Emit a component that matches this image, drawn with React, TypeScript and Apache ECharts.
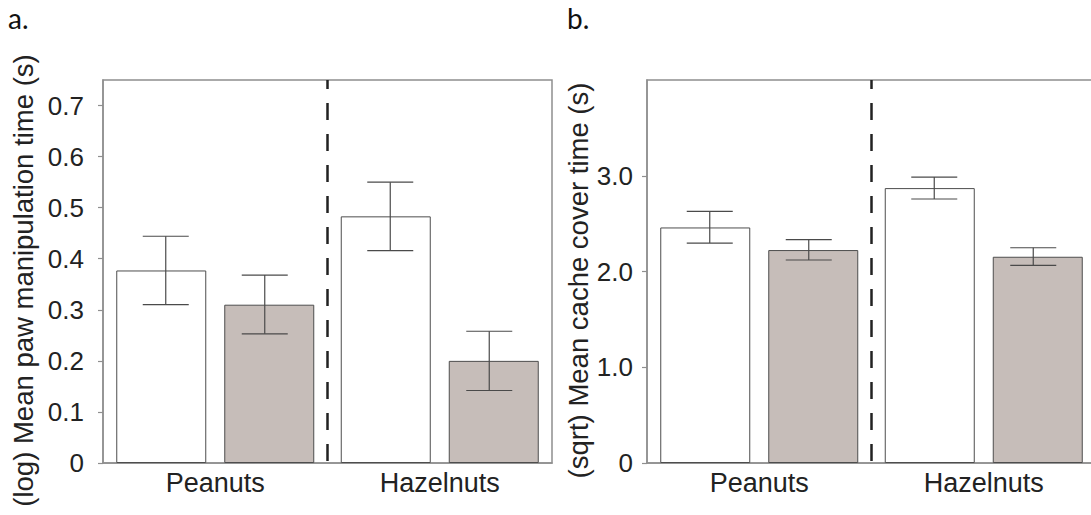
import React, { useEffect, useRef } from "react";
import * as echarts from "echarts";

const categories = ["Peanuts", "Hazelnuts"];

// Panel a: (log) mean paw manipulation time
const manipWhite = [0.377, 0.483];
const manipGray = [0.31, 0.2];
const manipWhiteErr = [
  [0.31, 0.444],
  [0.416, 0.55],
];
const manipGrayErr = [
  [0.253, 0.368],
  [0.142, 0.258],
];
const manipTicks = [0, 0.1, 0.2, 0.3, 0.4, 0.5, 0.6, 0.7];

// Panel b: (sqrt) mean cache cover time
const coverWhite = [2.46, 2.871];
const coverGray = [2.224, 2.154];
const coverWhiteErr = [
  [2.297, 2.627],
  [2.757, 2.986],
];
const coverGrayErr = [
  [2.12, 2.332],
  [2.063, 2.248],
];
const coverTicks = [0, 1, 2, 3];

const FONT = "'Liberation Sans', Arial, sans-serif";
const BAR_W = 90;
const BAR_GAP = 0.2;
const OFFSET = (BAR_W * (2 + BAR_GAP)) / 4;
const CAP_HALF = 23;
const BOX = "#8f8f8f";
const BAR_BORDER = "#4d4d4d";
const GRAY_FILL = "#c6bdb9";
const ERR = "#4a4a4a";

function errSeries(axis: number, data: number[][], sign: number) {
  return {
    type: "custom",
    xAxisIndex: axis,
    yAxisIndex: axis,
    z: 5,
    silent: true,
    data: data.map((d, i) => [i, d[0], d[1]]),
    renderItem: (params: any, api: any) => {
      const lo = api.coord([api.value(0), api.value(1)]);
      const hi = api.coord([api.value(0), api.value(2)]);
      const x = lo[0] + sign * OFFSET;
      const st = { stroke: ERR, lineWidth: 1.2 };
      return {
        type: "group",
        children: [
          { type: "line", shape: { x1: x, y1: lo[1], x2: x, y2: hi[1] }, style: st },
          { type: "line", shape: { x1: x - CAP_HALF, y1: lo[1], x2: x + CAP_HALF, y2: lo[1] }, style: st },
          { type: "line", shape: { x1: x - CAP_HALF, y1: hi[1], x2: x + CAP_HALF, y2: hi[1] }, style: st },
        ],
      };
    },
  };
}

function dashSeries(axis: number) {
  return {
    type: "custom",
    xAxisIndex: axis,
    yAxisIndex: axis,
    z: 6,
    silent: true,
    data: [[0]],
    renderItem: (params: any, api: any) => {
      const a = api.coord([0, 0]);
      const b = api.coord([1, 0]);
      const x = (a[0] + b[0]) / 2;
      const cs = params.coordSys;
      return {
        type: "line",
        shape: { x1: x, y1: cs.y, x2: x, y2: cs.y + cs.height },
        style: { stroke: "#222", lineWidth: 2.5, lineDash: [17, 14], lineDashOffset: 8 },
      };
    },
  };
}

function barSeries(axis: number, data: number[], fill: string) {
  return {
    type: "bar",
    xAxisIndex: axis,
    yAxisIndex: axis,
    data,
    barWidth: BAR_W,
    barGap: `${BAR_GAP * 100}%`,
    itemStyle: { color: fill, borderColor: BAR_BORDER, borderWidth: 1 },
    silent: true,
  };
}

const fmt = (v: number) => (v === 0 ? "0" : v.toFixed(1));

function yAxis(gridIndex: number, max: number, interval: number, ticks: number[], name: string, nameGap: number, margin: number, pad: number) {
  return {
    type: "value",
    gridIndex,
    min: 0,
    max,
    interval,
    name,
    nameLocation: "middle",
    nameGap,
    nameTextStyle: { fontFamily: FONT, fontSize: 27.5, color: "#222", padding: [0, pad, 0, 0] },
    splitLine: { show: false },
    axisLine: { show: true, lineStyle: { color: BOX, width: 1.5 } },
    axisTick: { show: true, length: 5, lineStyle: { color: BOX, width: 1.2 }, customValues: ticks },
    axisLabel: { fontFamily: FONT, fontSize: 26, color: "#222", margin, formatter: fmt, customValues: ticks },
  };
}

function xAxis(gridIndex: number) {
  return {
    type: "category",
    gridIndex,
    data: categories,
    axisLine: { show: true, lineStyle: { color: BOX, width: 1.5 } },
    axisTick: { show: false },
    axisLabel: { fontFamily: FONT, fontSize: 27, color: "#222", margin: 6 },
  };
}

export default function App() {
  const ref = useRef<HTMLDivElement>(null);
  useEffect(() => {
    if (!ref.current) return;
    const chart = echarts.init(ref.current, null, { renderer: "svg" });
    chart.setOption({
      animation: false,
      backgroundColor: "#ffffff",
      grid: [
        { left: 103, top: 80, width: 449, height: 383, show: true, borderColor: BOX, borderWidth: 1.5, backgroundColor: "transparent", outerBoundsMode: "none", containLabel: false },
        { left: 647, top: 80, width: 449, height: 383, show: true, borderColor: BOX, borderWidth: 1.5, backgroundColor: "transparent", outerBoundsMode: "none", containLabel: false },
      ],
      xAxis: [xAxis(0), xAxis(1)],
      yAxis: [
        yAxis(0, 0.75, 0.1, manipTicks, "(log) Mean paw manipulation time (s)", 66, 19, 18),
        yAxis(1, 4, 1, coverTicks, "(sqrt) Mean cache cover time (s)", 50, 14, 18),
      ],
      graphic: [
        { type: "text", left: 8, top: 4, style: { text: "a.", font: "28px Lato, 'Open Sans', sans-serif", fill: "#111" } },
        { type: "text", left: 567, top: 4, style: { text: "b.", font: "28px Lato, 'Open Sans', sans-serif", fill: "#111" } },
      ],
      series: [
        barSeries(0, manipWhite, "#ffffff"),
        barSeries(0, manipGray, GRAY_FILL),
        barSeries(1, coverWhite, "#ffffff"),
        barSeries(1, coverGray, GRAY_FILL),
        errSeries(0, manipWhiteErr, -1),
        errSeries(0, manipGrayErr, 1),
        errSeries(1, coverWhiteErr, -1),
        errSeries(1, coverGrayErr, 1),
        dashSeries(0),
        dashSeries(1),
      ],
    });
    return () => chart.dispose();
  }, []);
  return (
    <div
      ref={ref}
      style={{ position: "fixed", left: 0, top: 0, width: 1091, height: 515, background: "#fff" }}
    />
  );
}
